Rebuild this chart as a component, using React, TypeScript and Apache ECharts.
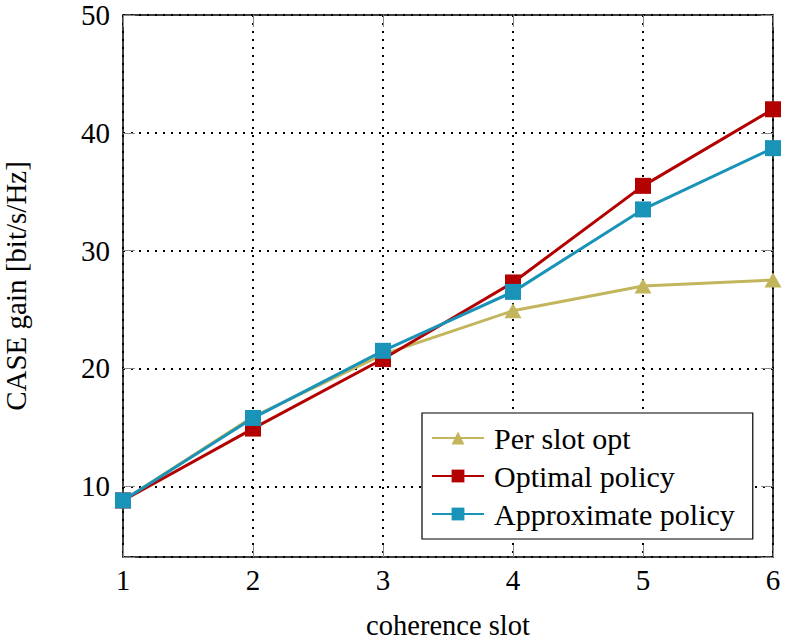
import React, { useEffect, useRef } from "react";
import * as echarts from "echarts";

const slots = [1, 2, 3, 4, 5, 6];
const perSlotOpt = [8.8, 15.9, 21.2, 24.9, 27.0, 27.5];
const optimalPolicy = [8.8, 14.9, 20.8, 27.3, 35.5, 42.0];
const approximatePolicy = [8.8, 15.8, 21.5, 26.5, 33.5, 38.7];
const seriesNames = ["Per slot opt", "Optimal policy", "Approximate policy"];
const colors = ["#c2b55c", "#b30000", "#1a93b8"];

const FONT = "'Liberation Serif', 'DejaVu Serif', serif";

export default function App() {
  const ref = useRef<HTMLDivElement>(null);
  useEffect(() => {
    if (!ref.current) return;
    const chart = echarts.init(ref.current, null, { renderer: "svg" });
    const tick = { show: true, inside: true, length: 12, lineStyle: { color: "#888", width: 1 } };
    const frame = { show: true, lineStyle: { color: "#000", width: 1.5 } };
    const grid = { show: true, lineStyle: { color: "#000", width: 2, type: [2, 6] } };
    const mk = (vals: number[]) => slots.map((s, i) => [s, vals[i]]);
    chart.setOption({
      animation: false,
      backgroundColor: "#fff",
      textStyle: { fontFamily: FONT },
      grid: { left: 123, top: 15, right: 15, bottom: 86, containLabel: false, outerBoundsMode: "none" },
      legend: {
        orient: "vertical",
        left: 422,
        top: 413,
        backgroundColor: "#fff",
        borderColor: "#000",
        borderWidth: 1.2,
        padding: [9, 18, 9, 9],
        itemWidth: 52,
        itemHeight: 16,
        itemGap: 6,
        textStyle: { fontFamily: FONT, fontSize: 30, color: "#000", lineHeight: 32, padding: [0, 0, 0, 5] },
        data: seriesNames,
      },
      xAxis: [
        {
          type: "value",
          min: 1,
          max: 6,
          interval: 1,
          position: "bottom",
          name: "coherence slot",
          nameLocation: "middle",
          nameGap: 54,
          nameTextStyle: { fontFamily: FONT, fontSize: 28.5, color: "#000" },
          axisLine: frame,
          axisTick: tick,
          axisLabel: { fontFamily: FONT, fontSize: 29, color: "#000", margin: 8 },
          splitLine: grid,
        },
        {
          type: "value",
          min: 1,
          max: 6,
          interval: 1,
          position: "top",
          axisLine: frame,
          axisTick: tick,
          axisLabel: { show: false },
          splitLine: { show: false },
        },
      ],
      yAxis: [
        {
          type: "value",
          min: 4,
          max: 50,
          splitNumber: 5,
          position: "left",
          name: "CASE gain [bit/s/Hz]",
          nameLocation: "middle",
          nameRotate: 90,
          nameGap: 93,
          nameTextStyle: { fontFamily: FONT, fontSize: 29, color: "#000" },
          axisLine: frame,
          axisTick: tick,
          axisLabel: {
            fontFamily: FONT,
            fontSize: 29,
            color: "#000",
            margin: 13,
            formatter: (v: number) => (v % 10 === 0 ? String(v) : ""),
          },
          splitLine: grid,
        },
        {
          type: "value",
          min: 4,
          max: 50,
          splitNumber: 5,
          position: "right",
          axisLine: frame,
          axisTick: tick,
          axisLabel: { show: false },
          splitLine: { show: false },
        },
      ],
      series: [
        {
          name: seriesNames[0],
          type: "line",
          data: mk(perSlotOpt),
          symbol: "triangle",
          symbolSize: [17, 15],
          lineStyle: { color: colors[0], width: 3 },
          itemStyle: { color: colors[0] },
        },
        {
          name: seriesNames[1],
          type: "line",
          data: mk(optimalPolicy),
          symbol: "rect",
          symbolSize: 16,
          lineStyle: { color: colors[1], width: 3 },
          itemStyle: { color: colors[1] },
        },
        {
          name: seriesNames[2],
          type: "line",
          data: mk(approximatePolicy),
          symbol: "rect",
          symbolSize: 16,
          lineStyle: { color: colors[2], width: 3 },
          itemStyle: { color: colors[2] },
        },
      ],
    });
    return () => chart.dispose();
  }, []);
  return <div ref={ref} style={{ width: 788, height: 643, position: "absolute", left: 0, top: 0 }} />;
}
